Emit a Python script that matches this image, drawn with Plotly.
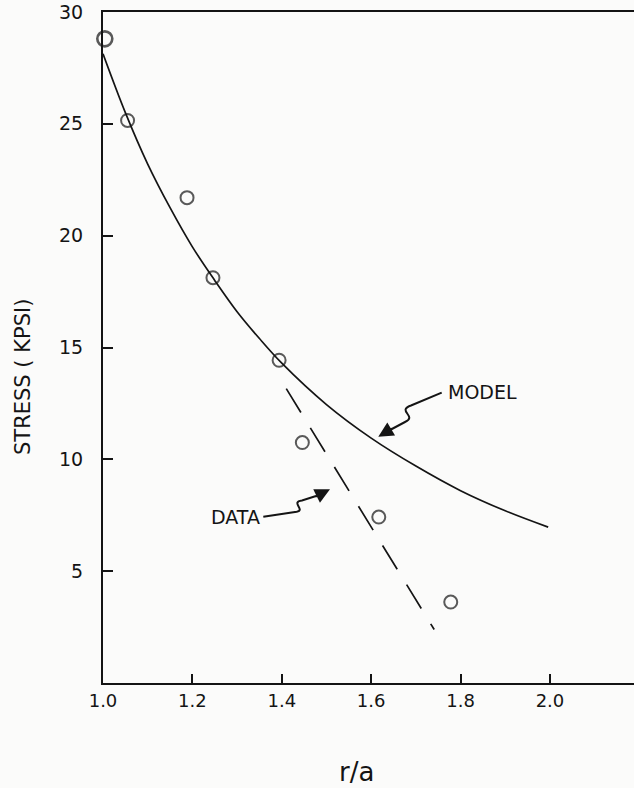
import plotly.graph_objects as go

# ---- data ----
data_r = [1.004, 1.055, 1.188, 1.246, 1.394, 1.446, 1.617, 1.778]
data_stress = [28.8, 25.15, 21.70, 18.12, 14.43, 10.75, 7.42, 3.62]

model_r = [1.0, 1.05, 1.1, 1.15, 1.2, 1.25, 1.3, 1.35, 1.4, 1.5, 1.6, 1.7, 1.8, 1.9, 1.996]
model_stress = [28.13, 25.5, 23.2, 21.25, 19.5, 18.0, 16.6, 15.4, 14.3, 12.45, 10.95, 9.7, 8.6, 7.7, 6.97]

trend_r = [1.41, 1.741]
trend_stress = [13.16, 2.39]

x_ticks = [1.0, 1.2, 1.4, 1.6, 1.8, 2.0]
x_ticklabels = ["1.0", "1.2", "1.4", "1.6", "1.8", "2.0"]
y_ticks = [5, 10, 15, 20, 25, 30]
y_ticklabels = ["5", "10", "15", "20", "25", "30"]

# ---- layout geometry ----
W, H = 634, 788
ML, MR, MT, MB = 103, 0, 12, 105
XR = [1.0, 2.188]
YR = [0, 30]
INK = "#141414"
FONT = "DejaVu Sans"


def px2x(px):
    return XR[0] + (px - ML) / (W - ML - MR) * (XR[1] - XR[0])


def px2y(py):
    return YR[1] - (py - MT) / (H - MT - MB) * (YR[1] - YR[0])


fig = go.Figure()

fig.add_trace(go.Scatter(x=model_r, y=model_stress, mode="lines",
                         line=dict(color=INK, width=1.7, shape="spline", smoothing=1.0),
                         hoverinfo="skip", showlegend=False))
fig.add_trace(go.Scatter(x=trend_r, y=trend_stress, mode="lines",
                         line=dict(color=INK, width=1.7, dash="28px,18px"),
                         hoverinfo="skip", showlegend=False))
fig.add_trace(go.Scatter(x=data_r, y=data_stress, mode="markers",
                         marker=dict(symbol="circle-open", color=INK,
                                     size=[15, 13, 13, 13, 13, 13, 13, 13],
                                     line=dict(color=INK, width=[2.6, 2, 2, 2, 2, 2, 2, 2])),
                         cliponaxis=False, showlegend=False))


def path_from_px(cmds):
    out = []
    for c in cmds:
        if isinstance(c, str):
            out.append(c)
        else:
            out.append(f"{px2x(c[0]):.5f},{px2y(c[1]):.5f}")
    return " ".join(out)


# MODEL leader (squiggle)
model_path = path_from_px(["M", (441.7, 392.7), "L", (411, 405.5), "C", (396, 411), (418, 416), (405, 422), "L", (390, 430)])
# DATA leader (squiggle)
data_path = path_from_px(["M", (263.3, 516.7), "L", (296.7, 511.7), "C", (306, 510), (290, 502), (302, 500.5), "L", (316, 496)])

for p in (model_path, data_path):
    fig.add_shape(type="path", path=p, xref="x", yref="y",
                  line=dict(color=INK, width=2))

# arrowheads
fig.add_annotation(x=px2x(378.3), y=px2y(436.7), xref="x", yref="y", text="",
                   showarrow=True, arrowhead=2, arrowsize=1.5, arrowwidth=2,
                   arrowcolor=INK, ax=15, ay=-9, standoff=0)
fig.add_annotation(x=px2x(330), y=px2y(489.3), xref="x", yref="y", text="",
                   showarrow=True, arrowhead=2, arrowsize=1.5, arrowwidth=2,
                   arrowcolor=INK, ax=-16, ay=8, standoff=0)

# labels
fig.add_annotation(x=px2x(446), y=px2y(392), xref="x", yref="y", text="MODEL",
                   showarrow=False, xanchor="left", yanchor="middle",
                   font=dict(family=FONT, size=19, color=INK))
fig.add_annotation(x=px2x(262), y=px2y(517), xref="x", yref="y", text="DATA",
                   showarrow=False, xanchor="right", yanchor="middle",
                   font=dict(family=FONT, size=19, color=INK))

# axis titles
fig.add_annotation(x=px2x(356), y=0, xref="x", yref="paper", yshift=-89,
                   text="r/a", showarrow=False, xanchor="center", yanchor="middle",
                   font=dict(family=FONT, size=26, color=INK))
fig.add_annotation(x=0, y=px2y(377), xref="paper", yref="y", xshift=-(ML - 23),
                   text="STRESS ( KPSI)", textangle=-90, showarrow=False,
                   xanchor="center", yanchor="middle",
                   font=dict(family=FONT, size=21, color=INK))

fig.update_xaxes(range=XR, showline=True, linecolor=INK, linewidth=2, mirror=True,
                 ticks="inside", ticklen=9, tickwidth=1.8, tickcolor=INK,
                 tickvals=x_ticks, ticktext=x_ticklabels, ticklabelstandoff=0,
                 showgrid=False, zeroline=False,
                 tickfont=dict(family=FONT, size=18, color=INK))
fig.update_yaxes(range=YR, showline=True, linecolor=INK, linewidth=2, mirror=False,
                 ticks="inside", ticklen=10, tickwidth=1.8, tickcolor=INK,
                 tickvals=y_ticks, ticktext=y_ticklabels, ticklabelstandoff=14,
                 showgrid=False, zeroline=False,
                 tickfont=dict(family=FONT, size=19, color=INK))

fig.update_layout(width=W, height=H, margin=dict(l=ML, r=MR, t=MT, b=MB),
                  paper_bgcolor="#fbfbfa", plot_bgcolor="#fbfbfa",
                  showlegend=False)

fig.write_html("out.html")
